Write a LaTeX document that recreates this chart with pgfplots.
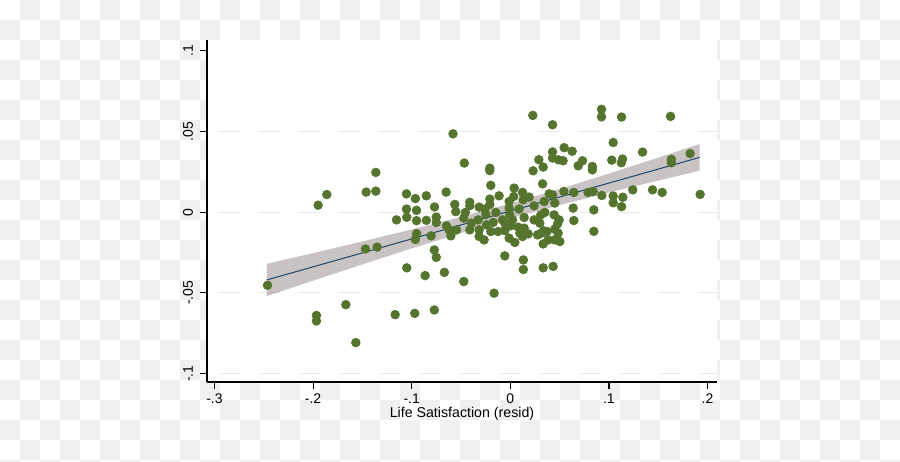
\documentclass[border=0pt]{standalone}
\usepackage{fontspec}
\setmainfont{Liberation Sans}
\usepackage{pgfplots}
\usepackage{pgfplotstable}
\pgfplotsset{compat=1.18}
\definecolor{cbgray}{RGB}{240,240,240}
\definecolor{stgreen}{RGB}{85,117,47}
\definecolor{stnavy}{RGB}{26,71,111}
\definecolor{bandc}{RGB}{148,136,136}
\definecolor{gridc}{RGB}{232,232,232}

\pgfplotstableread{
x y
-0.2462 -0.0453
-0.1966 -0.0640
-0.1966 -0.0674
-0.1949 0.0043
-0.1861 0.0109
-0.1668 -0.0573
-0.1567 -0.0808
-0.1462 0.0124
-0.1364 0.0130
-0.1364 0.0246
-0.1469 -0.0228
-0.1351 -0.0217
-0.1168 -0.0635
-0.1154 -0.0048
-0.0969 -0.0627
-0.0771 -0.0606
-0.1053 0.0113
-0.0963 0.0084
-0.0852 0.0101
-0.0651 0.0124
-0.1053 0.0019
-0.0951 0.0011
-0.0769 0.0032
-0.1050 -0.0032
-0.0951 -0.0053
-0.0852 -0.0051
-0.0751 -0.0031
-0.0751 -0.0064
-0.0951 -0.0133
-0.0963 -0.0169
-0.0803 -0.0147
-0.0771 -0.0234
-0.0751 -0.0280
-0.1050 -0.0345
-0.0864 -0.0393
-0.0669 -0.0373
-0.0472 -0.0430
-0.0165 -0.0502
-0.0581 0.0485
-0.0467 0.0304
-0.0208 0.0272
-0.0208 0.0257
-0.0563 0.0048
-0.0553 0.0003
-0.0411 0.0061
-0.0411 0.0040
-0.0456 -0.0002
-0.0472 -0.0037
-0.0316 0.0031
-0.0259 0.0019
-0.0208 0.0081
-0.0208 0.0047
-0.0248 -0.0015
-0.0147 -0.0002
-0.0327 -0.0048
-0.0394 -0.0068
-0.0647 -0.0085
-0.0621 -0.0110
-0.0546 -0.0110
-0.0411 -0.0110
-0.0316 -0.0110
-0.0241 -0.0079
-0.0174 -0.0064
-0.0198 -0.0120
-0.0124 -0.0120
-0.0603 -0.0147
-0.0316 -0.0151
-0.0266 -0.0172
-0.0198 0.0166
0.0231 0.0256
0.0039 0.0149
0.0327 0.0175
-0.0114 0.0101
0.0035 0.0097
0.0124 0.0122
0.0191 0.0093
0.0130 0.0076
-0.0012 0.0066
0.0394 0.0113
0.0428 0.0107
0.0543 0.0128
0.0644 0.0122
0.0789 0.0122
0.0840 0.0128
0.0241 0.0039
0.0343 0.0066
0.0451 0.0056
-0.0012 0.0025
0.0089 0.0019
0.0637 0.0025
0.0847 0.0014
0.0241 -0.0048
0.0309 -0.0017
0.0350 -0.0002
0.0444 -0.0017
0.0495 -0.0048
-0.0005 -0.0017
0.0022 -0.0048
-0.0079 -0.0048
-0.0056 -0.0068
0.0140 -0.0033
0.0140 -0.0099
0.0299 -0.0068
0.0340 -0.0116
0.0373 -0.0120
0.0451 -0.0105
0.0479 -0.0073
0.0485 -0.0130
0.0451 -0.0172
0.0383 -0.0172
0.0316 -0.0130
0.0276 -0.0141
0.0181 -0.0135
0.0096 -0.0130
0.0079 -0.0093
0.0002 -0.0085
-0.0056 -0.0114
-0.0012 -0.0161
0.0046 -0.0188
0.0124 -0.0151
0.0333 -0.0197
0.0502 -0.0182
0.0644 -0.0052
0.0847 -0.0119
-0.0056 -0.0271
0.0132 -0.0296
0.0132 -0.0355
0.0333 -0.0345
0.0434 -0.0336
0.0228 0.0599
0.0428 0.0541
0.0925 0.0637
0.0925 0.0590
0.1128 0.0589
0.1625 0.0593
0.1043 0.0431
0.1341 0.0372
0.0546 0.0399
0.0627 0.0377
0.1823 0.0363
0.1633 0.0327
0.1633 0.0306
0.0289 0.0325
0.0428 0.0373
0.0428 0.0335
0.0487 0.0324
0.0535 0.0318
0.0333 0.0279
0.0732 0.0318
0.0688 0.0287
0.0832 0.0283
0.0832 0.0262
0.1029 0.0322
0.1138 0.0329
0.1126 0.0306
0.0928 0.0103
0.1043 0.0100
0.1141 0.0092
0.1043 0.0058
0.1128 0.0034
0.1242 0.0138
0.1442 0.0138
0.1540 0.0122
0.1925 0.0110
}\scatterdata

\begin{document}
\begin{tikzpicture}
\useasboundingbox (0,0) rectangle (450pt,230.5pt);
\fill[white] (0,0) rectangle (450pt,230.5pt);
\foreach \i in {0,...,44}{\foreach \j in {0,...,23}{
  \pgfmathtruncatemacro{\p}{mod(\i+\j,2)}
  \ifnum\p=1 \fill[cbgray] (\i*10pt,230.5pt-\j*10pt) rectangle ++(10pt,-10pt);\fi
}}
\begin{axis}[
  at={(103.5pt,39.5pt)}, anchor=south west,
  scale only axis, width=255pt, height=171pt,
  xmin=-0.3076, xmax=0.2096, ymin=-0.1052, ymax=0.1066,
  axis x line*=bottom, axis y line*=left,
  axis background/.style={fill=white},
  xtick={-0.3,-0.2,-0.1,0,0.1,0.2}, xticklabels={-.3,-.2,-.1,0,.1,.2},
  ytick={-0.1,-0.05,0,0.05,0.1}, yticklabels={-.1,-.05,0,.05,.1},
  tick align=outside, major tick length=3.5pt,
  tick style={black, line width=0.6pt},
  axis line style={black, line width=0.7pt, -},
  yticklabel style={rotate=90, anchor=south},
  xticklabel style={yshift=1pt},
  ticklabel style={font=\fontsize{7}{8}\selectfont},
  xlabel={Life Satisfaction (resid)},
  xlabel style={yshift=5.5pt},
  label style={font=\fontsize{7.1}{8.5}\selectfont},
  extra y ticks={-0.1,-0.05,0,0.05}, extra y tick labels={},
  extra y tick style={grid=major, major tick length=0pt},
  grid style={gridc, line width=0.5pt, dash pattern=on 10pt off 10pt, dash phase=13.5pt},
]
\addplot[draw=none, fill=bandc, fill opacity=0.5] coordinates {
(-0.247,-0.03203) (-0.2,-0.02536) (-0.15,-0.01815) (-0.1,-0.01074) (-0.05,-0.00298)
(0,0.00534) (0.05,0.01432) (0.1,0.02386) (0.15,0.03375) (0.192,0.04222)
(0.192,0.02562) (0.15,0.01955) (0.1,0.01214) (0.05,0.00438) (0,-0.00394)
(-0.05,-0.01292) (-0.1,-0.02246) (-0.15,-0.03235) (-0.2,-0.04244) (-0.247,-0.05203)
} -- cycle;
\addplot[stnavy, line width=0.5pt] coordinates {(-0.247,-0.0420) (0.192,0.0339)};
\addplot[only marks, mark=*, mark size=2.15pt, mark options={fill=stgreen, draw=stgreen}] table {\scatterdata};
\end{axis}
\end{tikzpicture}
\end{document}
